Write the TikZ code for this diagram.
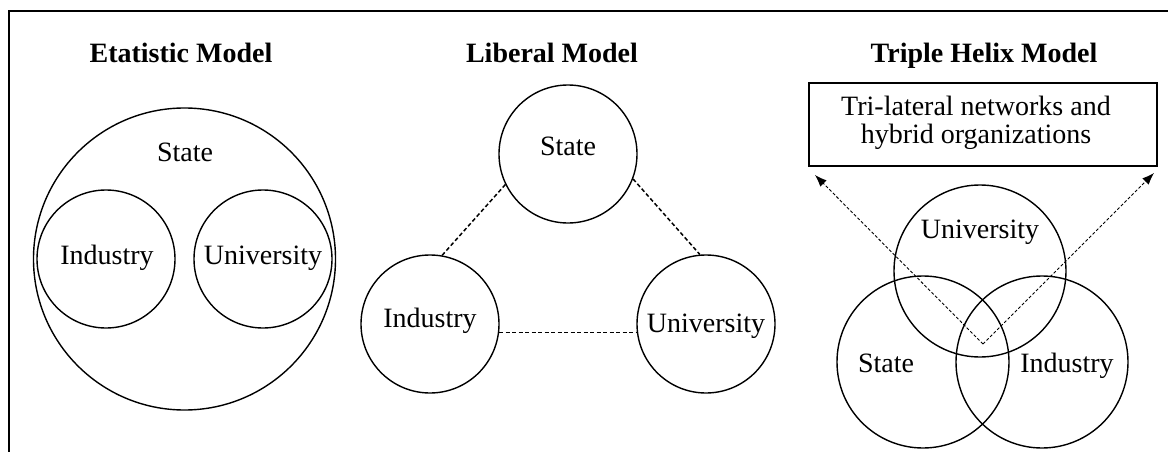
\documentclass[tikz,border=0pt]{standalone}
\usepackage{fontspec}
\setmainfont{Liberation Serif}
\usetikzlibrary{arrows.meta}
\begin{document}
\begin{tikzpicture}[x=1pt,y=-1pt,
  ring/.style={circle,draw,line width=1.4pt,inner sep=0pt,minimum size=#1},
  lbl/.style={anchor=base,font=\fontsize{28}{33}\selectfont,inner sep=0pt},
  ttl/.style={anchor=base,font=\fontsize{28}{33}\selectfont\bfseries,inner sep=0pt},
  link/.style={line width=1.5pt,dash pattern=on 4pt off 2.5pt},
  flow/.style={line width=0.9pt,dash pattern=on 3pt off 2pt,-{Latex[length=12pt,width=9pt]}}]
\useasboundingbox (0,0) rectangle (1168,452);
% frame
\draw[line width=1.8pt] (9,452) -- (9,11) -- (1168,11);

% titles
\node[ttl] (t1) at (181,63) {Etatistic Model};
\node[ttl] (t2) at (552,63) {Liberal Model};
\node[ttl] (t3) at (984,63) {Triple Helix Model};

% Etatistic model
\node[ring=302pt] (eSt) at (184.5,259) {};
\node[ring=138pt] (eInd) at (106,259) {};
\node[ring=138pt] (eUni) at (263,259) {};
\node[lbl] (eStL) at (185,161) {State};
\node[lbl] (eIndL) at (107,264) {Industry};
\node[lbl] (eUniL) at (263,264) {University};

% Liberal model
\node[ring=138pt] (lSt) at (568,154) {};
\node[ring=138pt] (lInd) at (430,324) {};
\node[ring=138pt] (lUni) at (706,324) {};
\node[lbl] (lStL) at (568,155) {State};
\node[lbl] (lIndL) at (430,327) {Industry};
\node[lbl] (lUniL) at (706,332) {University};
\draw[link] (lInd.80) -- (lSt.206);
\draw[link] (lSt.-21.5) -- (lUni.95);
\draw[link] (lInd.-7) -- (lUni.187);

% Triple helix model
\node[draw,line width=1.4pt,inner sep=0pt,minimum width=348pt,minimum height=83pt] (box) at (983,124.5) {};
\node[lbl] (boxL1) at (976,115) {Tri-lateral networks and};
\node[lbl] (boxL2) at (976,143) {hybrid organizations};
\node[ring=172pt] (tUni) at (980,271) {};
\node[ring=172pt] (tSt) at (923,362) {};
\node[ring=172pt] (tInd) at (1042,362) {};
\node[lbl] (tUniL) at (980,238) {University};
\node[lbl] (tStL) at (886,372) {State};
\node[lbl] (tIndL) at (1067,372) {Industry};
\coordinate (apex) at (983,344);
\coordinate (tipL) at (815,175);
\coordinate (tipR) at (1154,173);
\draw[flow] (apex) -- (tipL);
\draw[flow] (apex) -- (tipR);
\end{tikzpicture}
\end{document}
